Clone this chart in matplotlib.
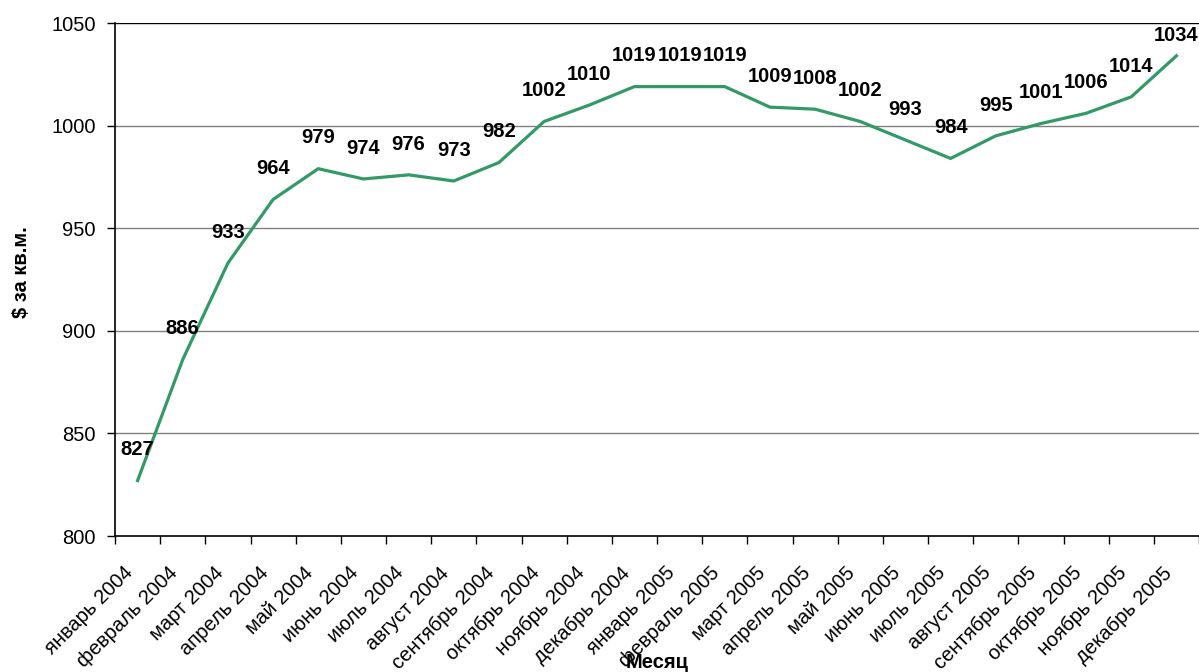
import matplotlib
matplotlib.use("Agg")
import matplotlib.pyplot as plt
import matplotlib.transforms as mtransforms
import numpy as np

plt.rcParams['font.family'] = ['Liberation Sans', 'DejaVu Sans']

months = ["январь 2004", "февраль 2004", "март 2004", "апрель 2004", "май 2004",
          "июнь 2004", "июль 2004", "август 2004", "сентябрь 2004", "октябрь 2004",
          "ноябрь 2004", "декабрь 2004", "январь 2005", "февраль 2005", "март 2005",
          "апрель 2005", "май 2005", "июнь 2005", "июль 2005", "август 2005",
          "сентябрь 2005", "октябрь 2005", "ноябрь 2005", "декабрь 2005"]
price = [827, 886, 933, 964, 979, 974, 976, 973, 982, 1002, 1010, 1019,
         1019, 1019, 1009, 1008, 1002, 993, 984, 995, 1001, 1006, 1014, 1034]
y_ticks = [800, 850, 900, 950, 1000, 1050]

FS = 14.5

fig = plt.figure(figsize=(11.99, 6.72), dpi=100)
ax = fig.add_axes([115 / 1199, 1 - 536 / 672, (1199 - 115) / 1199, (536 - 23) / 672])

x = np.arange(len(months)) + 0.5
ax.plot(x, price, color="#339966", lw=2.3, solid_joinstyle="miter", zorder=3)

ymin, ymax = 800, 1050
ax.set_xlim(0, len(months))
ax.set_ylim(ymin, ymax)

# value labels above each point, kept inside the plot area at the top
for xi, v in zip(x, price):
    ly = min(v + 15.0, ymax - 6.0)
    ax.text(xi, ly, str(v), ha="center", va="center", fontsize=FS,
            fontweight="bold", zorder=4)

ax.set_yticks(y_ticks)
ax.set_yticklabels([str(t) for t in y_ticks], fontsize=FS)
for t in y_ticks[1:]:
    ax.axhline(t, color="#000000" if t == ymax else "#808080", lw=1.0, zorder=1)

# ticks sit on category boundaries, labels on category centres
ax.set_xticks(np.arange(len(months) + 1))
ax.set_xticklabels([])
label_shift = mtransforms.ScaledTranslation(0, -34 / 100, fig.dpi_scale_trans)
for xi, m in zip(x, months):
    ax.text(xi - 0.17, ymin, m, transform=ax.transData + label_shift, rotation=45,
            rotation_mode="anchor", ha="right", va="center", fontsize=FS,
            clip_on=False)

ax.tick_params(axis="both", direction="out", length=6, width=1, colors="black")
ax.tick_params(axis="y", pad=8)
for s in ["top", "right"]:
    ax.spines[s].set_visible(False)
for s in ["left", "bottom"]:
    ax.spines[s].set_color("black")
    ax.spines[s].set_linewidth(1.2)

fig.text(22 / 1199, 1 - 272 / 672, "$ за кв.м.", rotation=90, ha="center", va="center",
         fontsize=FS, fontweight="bold")
fig.text(657 / 1199, 1 - 663 / 672, "Месяц", ha="center", va="center",
         fontsize=FS, fontweight="bold")

fig.savefig("out.png", dpi=100)
